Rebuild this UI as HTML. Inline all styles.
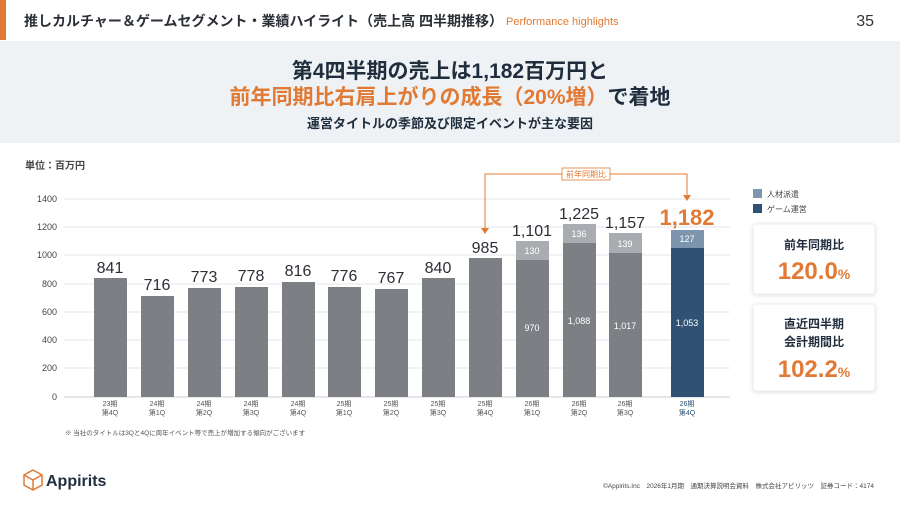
<!DOCTYPE html>
<html><head><meta charset="utf-8"><style>
body{margin:0;width:900px;height:506px;overflow:hidden;background:#fff;font-family:"Liberation Sans","Noto Sans CJK JP",sans-serif;}
</style></head><body>
<svg width="900" height="506" xmlns="http://www.w3.org/2000/svg" font-family="Liberation Sans, Noto Sans CJK JP, sans-serif">
<rect x="0" y="0" width="6" height="40" fill="#e07a35"/>
<text x="24" y="26" font-size="14" font-weight="bold" fill="#2b2f36">推しカルチャー＆ゲームセグメント・業績ハイライト（売上高 四半期推移）</text>
<text x="506" y="25" font-size="11" fill="#e07a35">Performance highlights</text>
<text x="874" y="26" font-size="16" fill="#333" text-anchor="end">35</text>
<rect x="0" y="41" width="900" height="102" fill="#eef2f5"/>
<text x="450" y="78" font-size="21" font-weight="bold" fill="#1f2d3d" text-anchor="middle">第4四半期の売上は1,182百万円と</text>
<text x="450" y="104" font-size="21" font-weight="bold" fill="#1f2d3d" text-anchor="middle"><tspan fill="#e07a35">前年同期比右肩上がりの成長（20%増）</tspan>で着地</text>
<text x="450" y="128" font-size="13" font-weight="bold" fill="#1f2d3d" text-anchor="middle">運営タイトルの季節及び限定イベントが主な要因</text>
<text x="25" y="169" font-size="10" font-weight="bold" fill="#444">単位：百万円</text>
<g stroke="#e4e6e9" stroke-width="1">
<line x1="64" y1="199" x2="730" y2="199"/><line x1="64" y1="227" x2="730" y2="227"/><line x1="64" y1="255" x2="730" y2="255"/><line x1="64" y1="284" x2="730" y2="284"/><line x1="64" y1="312" x2="730" y2="312"/><line x1="64" y1="340" x2="730" y2="340"/><line x1="64" y1="368" x2="730" y2="368"/><line x1="64" y1="397" x2="730" y2="397" stroke="#ccc"/>
</g>
<g font-size="9" fill="#444" text-anchor="end">
<text x="57" y="202">1400</text><text x="57" y="230">1200</text><text x="57" y="258">1000</text><text x="57" y="287">800</text><text x="57" y="315">600</text><text x="57" y="343">400</text><text x="57" y="371">200</text><text x="57" y="400">0</text>
</g>
<g fill="#7c8085">
<rect x="94" y="278" width="33" height="119"/>
<rect x="141" y="296" width="33" height="101"/>
<rect x="188" y="288" width="33" height="109"/>
<rect x="235" y="287" width="33" height="110"/>
<rect x="282" y="282" width="33" height="115"/>
<rect x="328" y="287" width="33" height="110"/>
<rect x="375" y="289" width="33" height="108"/>
<rect x="422" y="278" width="33" height="119"/>
<rect x="469" y="258" width="33" height="139"/>
<rect x="516" y="260" width="33" height="137"/>
<rect x="563" y="243" width="33" height="154"/>
<rect x="609" y="253" width="33" height="144"/>
</g>
<g fill="#a9adb2">
<rect x="516" y="241" width="33" height="19"/>
<rect x="563" y="224" width="33" height="19"/>
<rect x="609" y="233" width="33" height="20"/>
</g>
<rect x="671" y="248" width="33" height="149" fill="#2f5173"/>
<rect x="671" y="230" width="33" height="18" fill="#7d95ad"/>
<g font-size="16" fill="#2b2f36" text-anchor="middle">
<text x="110" y="273">841</text><text x="157" y="290">716</text><text x="204" y="282">773</text><text x="251" y="281">778</text><text x="298" y="276">816</text><text x="344" y="281">776</text><text x="391" y="283">767</text><text x="438" y="273">840</text><text x="485" y="253">985</text><text x="532" y="236">1,101</text><text x="579" y="219">1,225</text><text x="625" y="228">1,157</text>
</g>
<text x="687" y="225" font-size="22" font-weight="bold" fill="#e07a35" text-anchor="middle">1,182</text>
<g font-size="9" fill="#fff" text-anchor="middle">
<text x="532" y="254">130</text><text x="579" y="237">136</text><text x="625" y="247">139</text><text x="687" y="242">127</text>
<text x="532" y="331">970</text><text x="579" y="324">1,088</text><text x="625" y="329">1,017</text><text x="687" y="326">1,053</text>
</g>
<g font-size="7" fill="#555" text-anchor="middle">
<text x="110" y="406">23期</text><text x="110" y="415">第4Q</text>
<text x="157" y="406">24期</text><text x="157" y="415">第1Q</text>
<text x="204" y="406">24期</text><text x="204" y="415">第2Q</text>
<text x="251" y="406">24期</text><text x="251" y="415">第3Q</text>
<text x="298" y="406">24期</text><text x="298" y="415">第4Q</text>
<text x="344" y="406">25期</text><text x="344" y="415">第1Q</text>
<text x="391" y="406">25期</text><text x="391" y="415">第2Q</text>
<text x="438" y="406">25期</text><text x="438" y="415">第3Q</text>
<text x="485" y="406">25期</text><text x="485" y="415">第4Q</text>
<text x="532" y="406">26期</text><text x="532" y="415">第1Q</text>
<text x="579" y="406">26期</text><text x="579" y="415">第2Q</text>
<text x="625" y="406">26期</text><text x="625" y="415">第3Q</text>
<text x="687" y="406" fill="#2f5173">26期</text><text x="687" y="415" fill="#2f5173">第4Q</text>
</g>
<g stroke="#e07a35" stroke-width="1" fill="none">
<polyline points="485,228 485,174 687,174 687,196"/>
</g>
<polygon points="481,228 489,228 485,234" fill="#e07a35"/>
<polygon points="683,195 691,195 687,201" fill="#e07a35"/>
<rect x="562" y="168" width="48" height="12" fill="#fff" stroke="#e07a35" stroke-width="0.8"/>
<text x="586" y="177" font-size="8" fill="#e07a35" text-anchor="middle">前年同期比</text>
<rect x="753" y="189" width="9" height="9" fill="#7d95ad"/>
<text x="767" y="197" font-size="8" fill="#444">人材派遣</text>
<rect x="753" y="204" width="9" height="9" fill="#2f5173"/>
<text x="767" y="212" font-size="8" fill="#444">ゲーム運営</text>
<rect x="753" y="224" width="122" height="70" rx="3" fill="#fff" stroke="#eceef0" style="filter:drop-shadow(0 1px 2px rgba(0,0,0,.12))"/>
<text x="814" y="249" font-size="12" font-weight="bold" fill="#1f2d3d" text-anchor="middle">前年同期比</text>
<text x="814" y="279" font-size="24" font-weight="bold" fill="#e07a35" text-anchor="middle">120.0<tspan font-size="14">%</tspan></text>
<rect x="753" y="304" width="122" height="87" rx="3" fill="#fff" stroke="#eceef0" style="filter:drop-shadow(0 1px 2px rgba(0,0,0,.12))"/>
<text x="814" y="328" font-size="12" font-weight="bold" fill="#1f2d3d" text-anchor="middle">直近四半期</text>
<text x="814" y="346" font-size="12" font-weight="bold" fill="#1f2d3d" text-anchor="middle">会計期間比</text>
<text x="814" y="377" font-size="24" font-weight="bold" fill="#e07a35" text-anchor="middle">102.2<tspan font-size="14">%</tspan></text>
<text x="65" y="435" font-size="6.5" fill="#555">※ 当社のタイトルは3Qと4Qに周年イベント等で売上が増加する傾向がございます</text>
<g stroke="#e07a35" stroke-width="1.5" fill="none"><polygon points="33,470 42,475 42,485 33,490 24,485 24,475"/><polyline points="24,475 33,480 42,475"/><line x1="33" y1="480" x2="33" y2="490"/></g>
<text x="46" y="486" font-size="16" font-weight="bold" fill="#1f2d3d">Appirits</text>
<text x="874" y="488" font-size="6.5" fill="#444" text-anchor="end">©Appirits.Inc　2026年1月期　通期決算説明会資料　株式会社アピリッツ　証券コード：4174</text>
</svg>
</body></html>
